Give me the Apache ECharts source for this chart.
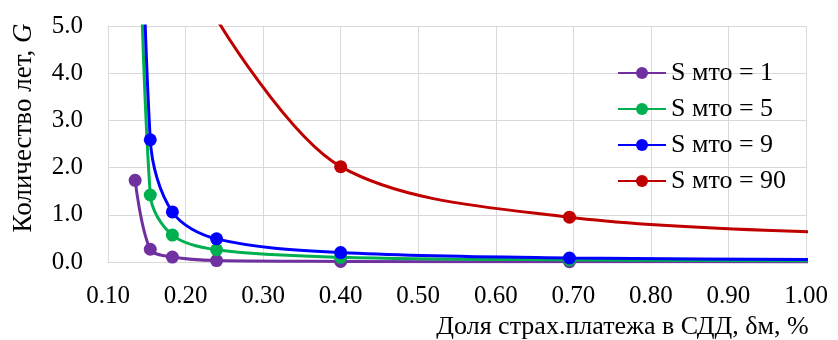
<!DOCTYPE html>
<html>
<head>
<meta charset="utf-8">
<script src="https://cdn.jsdelivr.net/npm/echarts@6/dist/echarts.min.js"></script>
<style>html,body{margin:0;padding:0;background:#fff;}#c{width:838px;height:340px;}</style>
</head>
<body>
<div id="c"></div>
<script>
// Shared x positions (доля страх. платежа)
var xValues = [0.135, 0.1545, 0.183, 0.24, 0.40, 0.695, 1.1];
// Series values (null = not plotted; values above 5 are off the chart)
var s1 = [1.73, 0.27, 0.105, 0.03, 0.012, 0.005, 0.002];
var s5 = [12, 1.42, 0.57, 0.26, 0.10, 0.045, 0.025];
var s9 = [15, 2.59, 1.06, 0.49, 0.20, 0.085, 0.05];
var s90 = [null, null, null, 5.15, 2.02, 0.95, 0.6];
var seriesNames = ['S мто = 1', 'S мто = 5', 'S мто = 9', 'S мто = 90'];
var seriesColors = ['#7030A0', '#00B050', '#0000FF', '#C00000'];
var xTicks = [0.1, 0.2, 0.3, 0.4, 0.5, 0.6, 0.7, 0.8, 0.9, 1.0];
var yTicks = [0, 1, 2, 3, 4, 5];

function pairs(vals) {
  var out = [];
  for (var i = 0; i < xValues.length; i++) {
    if (vals[i] !== null) out.push([xValues[i], vals[i]]);
  }
  return out;
}
var allVals = [s1, s5, s9, s90];
var FONT = '"Liberation Serif", "Times New Roman", serif';

var chart = echarts.init(document.getElementById('c'), null, {renderer: 'canvas'});
chart.setOption({
  animation: false,
  backgroundColor: '#fff',
  grid: {left: 108, right: 32, top: 26, bottom: 78, containLabel: false, outerBoundsMode: 'none'},
  legend: {
    orient: 'vertical',
    left: 612,
    top: 55,
    itemWidth: 48,
    itemHeight: 15,
    itemGap: 10,
    data: seriesNames,
    textStyle: {fontFamily: FONT, fontSize: 26, color: '#000', lineHeight: 25}
  },
  xAxis: {
    type: 'value',
    min: xTicks[0],
    max: xTicks[xTicks.length - 1],
    interval: 0.1,
    axisLine: {show: true, lineStyle: {color: '#d9d9d9', width: 1}},
    axisTick: {show: false},
    splitLine: {show: true, lineStyle: {color: '#d9d9d9', width: 1}},
    axisLabel: {
      fontFamily: FONT, fontSize: 25, color: '#000', margin: 22,
      showMinLabel: true, showMaxLabel: true, hideOverlap: false,
      formatter: function (v) { return v.toFixed(2); }
    },
    name: 'Доля страх.платежа в СДД, δм, %',
    nameLocation: 'middle',
    nameGap: 51,
    nameTextStyle: {
      fontFamily: FONT, fontSize: 26, color: '#000',
      verticalAlign: 'top', lineHeight: 25,
      padding: [0, 0, 0, 331]
    }
  },
  yAxis: {
    type: 'value',
    min: yTicks[0],
    max: yTicks[yTicks.length - 1],
    interval: 1,
    axisLine: {show: true, lineStyle: {color: '#d9d9d9', width: 1}},
    axisTick: {show: false},
    splitLine: {show: true, lineStyle: {color: '#d9d9d9', width: 1}},
    axisLabel: {
      fontFamily: FONT, fontSize: 25, color: '#000', margin: 25,
      showMinLabel: true, showMaxLabel: true,
      formatter: function (v) { return v.toFixed(1); }
    },
    name: '{n|Количество лет, }{i|G}',
    nameLocation: 'middle',
    nameGap: 71,
    nameRotate: 90,
    nameTextStyle: {
      fontFamily: FONT, fontSize: 27, color: '#000',
      padding: [0, 0, 0, 32],
      rich: {
        n: {fontFamily: FONT, fontSize: 27, color: '#000'},
        i: {fontFamily: FONT, fontSize: 27, color: '#000', fontStyle: 'italic'}
      }
    }
  },
  series: seriesNames.map(function (nm, k) {
    return {
      name: nm,
      type: 'line',
      data: pairs(allVals[k]),
      smooth: 0.33,
      clip: true,
      symbol: 'circle',
      symbolSize: 13,
      showAllSymbol: true,
      lineStyle: {color: seriesColors[k], width: 3},
      itemStyle: {color: seriesColors[k]},
      z: 2 + k
    };
  })
});
</script>
</body>
</html>
